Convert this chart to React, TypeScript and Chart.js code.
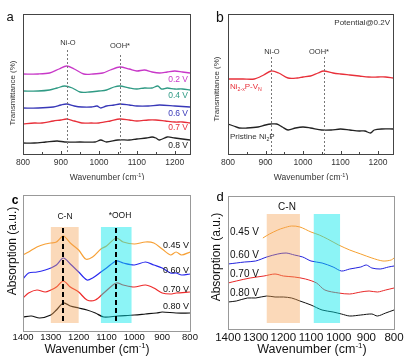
import { useEffect, useRef } from "react";
import { Chart, registerables } from "chart.js";
Chart.register(...registerables);

const FONT = "'Liberation Sans', Arial, sans-serif";

// ---------- Panel a: in-situ spectra at different potentials (transmittance, a.u. offsets)
const aX02 = [800, 840, 870, 895, 915, 935, 960, 985, 1010, 1030, 1055, 1080, 1100, 1120, 1140, 1160, 1180, 1200, 1220, 1240];
const aY02 = [80, 80, 81, 85, 88, 85, 80, 80, 81, 84, 87, 85, 83, 84, 82, 81, 82, 83, 82, 81];
const aX04 = [800, 840, 870, 890, 910, 930, 950, 975, 1000, 1020, 1040, 1055, 1080, 1100, 1120, 1140, 1155, 1165, 1180, 1200, 1220, 1240];
const aY04 = [63, 63, 64, 66, 68, 66, 62, 62, 63, 64, 67, 68, 66, 65, 66, 66, 68, 65, 66, 65, 65, 64];
const aX06 = [800, 840, 880, 900, 915, 935, 955, 980, 995, 1005, 1020, 1040, 1055, 1080, 1100, 1130, 1160, 1200, 1240];
const aY06 = [46, 46, 47, 49, 50, 48, 47, 47, 48, 46, 48, 49, 50, 49, 48, 48, 49, 48, 47];
const aX07 = [800, 830, 850, 880, 900, 915, 935, 955, 980, 1000, 1030, 1055, 1080, 1100, 1130, 1150, 1175, 1200, 1220, 1240];
const aY07 = [30, 31, 31, 33, 34, 35, 33, 31, 31, 31, 33, 35, 34, 33, 34, 34, 33, 32, 32, 31];
const aX08 = [800, 830, 860, 890, 910, 950, 990, 1005, 1020, 1050, 1080, 1100, 1125, 1140, 1150, 1160, 1180, 1200, 1220, 1240];
const aY08 = [11, 11, 12, 13, 12, 12, 12, 14, 12, 14, 14, 15, 16, 17, 16, 14, 17, 16, 15, 14];
const aLabels = ["0.2 V", "0.4 V", "0.6 V", "0.7 V", "0.8 V"];

// ---------- Panel b: Ni2-xP-VN vs pristine Ni2P @0.2 V
const bXv = [800, 840, 870, 895, 915, 935, 960, 985, 1000, 1020, 1040, 1055, 1080, 1100, 1125, 1150, 1175, 1200, 1220, 1240];
const bYv = [75, 75, 75, 79, 83, 81, 76, 76, 77, 78, 81, 83, 81, 80, 79, 78, 77, 77, 77, 76];
const bXp = [800, 815, 830, 850, 880, 900, 915, 930, 945, 960, 980, 1000, 1020, 1050, 1075, 1100, 1125, 1150, 1165, 1180, 1190, 1210, 1240];
const bYp = [30, 28, 26, 26, 27, 29, 30, 30, 27, 24, 26, 27, 26, 24, 24, 25, 24, 23, 23, 21, 24, 25, 25];

// ---------- Panel c: absorption spectra (reversed wavenumber)
const cX45 = [1400, 1380, 1350, 1320, 1300, 1280, 1255, 1230, 1200, 1175, 1150, 1120, 1100, 1065, 1040, 1000, 960, 930, 900, 870, 850, 830, 800];
const cY45 = [76, 79, 84, 87, 88, 89, 95, 88, 81, 72, 74, 82, 85, 93, 89, 87, 89, 88, 82, 76, 79, 76, 79];
const cX60 = [1400, 1380, 1350, 1320, 1300, 1280, 1255, 1230, 1200, 1170, 1150, 1120, 1100, 1065, 1040, 1000, 960, 930, 900, 870, 850, 830, 800];
const cY60 = [52, 58, 59, 61, 63, 66, 73, 67, 59, 51, 53, 59, 63, 70, 68, 66, 69, 66, 63, 58, 58, 56, 57];
const cX70 = [1400, 1380, 1350, 1320, 1300, 1280, 1255, 1230, 1200, 1170, 1140, 1110, 1065, 1040, 1000, 960, 930, 900, 870, 850, 800];
const cY70 = [33, 38, 41, 39, 41, 44, 50, 44, 39, 31, 31, 38, 48, 46, 44, 46, 43, 38, 37, 38, 39];
const cX80 = [1400, 1370, 1340, 1300, 1280, 1255, 1230, 1200, 1170, 1140, 1110, 1060, 1000, 960, 920, 900, 850, 800];
const cY80 = [14, 15, 13, 16, 21, 28, 25, 23, 21, 18, 14, 15, 16, 17, 18, 19, 18, 18];
const cLabels = ["0.45 V", "0.60 V", "0.70 V", "0.80 V"];

// ---------- Panel d
const dX45 = [1274, 1250, 1220, 1200, 1170, 1140, 1100, 1070, 1040, 1000, 960, 920, 880, 840, 810, 800];
const dY45 = [91, 95, 99, 101, 103, 102, 97, 94, 90, 84, 79, 75, 71, 68, 69, 71];
const dX60 = [1400, 1370, 1340, 1300, 1260, 1220, 1190, 1160, 1130, 1100, 1060, 1020, 990, 960, 920, 900, 880, 850, 820, 800];
const dY60 = [65, 66, 67, 68, 72, 75, 76, 74, 72, 68, 66, 62, 58, 60, 62, 64, 61, 60, 62, 63];
const dX70 = [1400, 1370, 1320, 1270, 1230, 1200, 1160, 1120, 1080, 1050, 1000, 960, 920, 890, 860, 830, 800];
const dY70 = [46, 48, 51, 53, 55, 53, 52, 50, 46, 39, 36, 35, 37, 38, 37, 39, 41];
const dX80 = [1400, 1370, 1330, 1300, 1260, 1230, 1200, 1170, 1140, 1100, 1060, 1020, 990, 960, 920, 880, 860, 830, 800];
const dY80 = [27, 28, 31, 31, 33, 32, 32, 31, 28, 24, 19, 17, 15, 13, 14, 15, 13, 16, 19];
const dLabels = ["0.45 V", "0.60 V", "0.70 V", "0.80 V"];

// Marker positions (wavenumbers)
const abPeaks = [915, 1055];
const cPeaks = [1255, 1065];
const cBandCN = [1300, 1200];
const cBandOOH = [1120, 1010];
const dBandCN = [1260, 1140];
const dBandOOH = [1090, 995];

type Seg = { t: string; s?: "sub" | "sup" };
type TextItem = { segs: Seg[]; x: number; y: number; size: number; color: string; align?: "left" | "center" | "right"; rot?: boolean; bold?: boolean };
type Series = { xs: number[]; ys: number[]; color: string };
type Band = { from: number; to: number; color: string };
type VLine = { x: number; top: number; bottom: number; color: string; width: number; dash: number[] };
type Panel = {
  left: number; top: number; w: number; h: number;
  padL: number; padT: number; padR: number; axisH: number;
  xmin: number; xmax: number; reverse: boolean;
  tickSize: number; tickColor: string; tickPad: number;
  ymax: number; series: Series[]; lw: number; frame: string;
  bands: Band[]; bandY: number[]; vlines: VLine[]; texts: TextItem[]; innerTicks: boolean;
};

const T = (t: string): Seg[] => [{ t }];
const WN: Seg[] = [{ t: "Wavenumber (cm" }, { t: "-1", s: "sup" }, { t: ")" }];

const cMag = "#c838c8", cTeal = "#2f9a84", cBlue = "#3838b8", cRed = "#e8303a", cBlk = "#222";
const CN_BAND = "rgba(245,160,80,0.40)";
const OOH_BAND = "rgba(0,230,235,0.45)";

const PANELS: Panel[] = [
  {
    left: 0, top: 0, w: 204, h: 180, padL: 23, padT: 14, padR: 14, axisH: 26,
    xmin: 800, xmax: 1240, reverse: false, tickSize: 8.5, tickColor: "#333", tickPad: 4,
    ymax: 140, lw: 1.3, frame: "#444", innerTicks: true,
    series: [
      { xs: aX02, ys: aY02, color: cMag }, { xs: aX04, ys: aY04, color: cTeal },
      { xs: aX06, ys: aY06, color: cBlue }, { xs: aX07, ys: aY07, color: cRed },
      { xs: aX08, ys: aY08, color: cBlk },
    ],
    bands: [], bandY: [0, 0],
    vlines: [
      { x: abPeaks[0], top: 104, bottom: 0, color: "#777", width: 1, dash: [2, 2] },
      { x: abPeaks[1], top: 99, bottom: 0, color: "#777", width: 1, dash: [2, 2] },
    ],
    texts: [
      { segs: T("a"), x: 10, y: 17, size: 13, color: "#111" },
      { segs: T("Transmittance (%)"), x: 13, y: 93, size: 8, color: "#333", rot: true },
      { segs: WN, x: 107, y: 178, size: 8.5, color: "#333" },
      { segs: T("Ni-O"), x: 68, y: 43, size: 7.5, color: "#333" },
      { segs: T("OOH*"), x: 120, y: 46, size: 7.5, color: "#333" },
      { segs: T(aLabels[0]), x: 188, y: 80, size: 8.5, color: cMag, align: "right" },
      { segs: T(aLabels[1]), x: 188, y: 96, size: 8.5, color: cTeal, align: "right" },
      { segs: T(aLabels[2]), x: 188, y: 114, size: 8.5, color: cBlue, align: "right" },
      { segs: T(aLabels[3]), x: 188, y: 128, size: 8.5, color: cRed, align: "right" },
      { segs: T(aLabels[4]), x: 188, y: 146, size: 8.5, color: cBlk, align: "right" },
    ],
  },
  {
    left: 204, top: 0, w: 205, h: 180, padL: 24, padT: 14, padR: 16, axisH: 26,
    xmin: 800, xmax: 1240, reverse: false, tickSize: 8.5, tickColor: "#333", tickPad: 4,
    ymax: 140, lw: 1.3, frame: "#444", innerTicks: true,
    series: [{ xs: bXv, ys: bYv, color: cRed }, { xs: bXp, ys: bYp, color: cBlk }],
    bands: [], bandY: [0, 0],
    vlines: [
      { x: abPeaks[0], top: 97, bottom: 0, color: "#777", width: 1, dash: [2, 2] },
      { x: abPeaks[1], top: 97, bottom: 0, color: "#777", width: 1, dash: [2, 2] },
    ],
    texts: [
      { segs: T("b"), x: 16, y: 18, size: 14, color: "#111" },
      { segs: T("Transmittance (%)"), x: 13, y: 89, size: 8, color: "#333", rot: true },
      { segs: WN, x: 107, y: 178, size: 8.5, color: "#333" },
      { segs: T("Potential@0.2V"), x: 186, y: 23, size: 8, color: "#333", align: "right" },
      { segs: T("Ni-O"), x: 68, y: 52, size: 7.5, color: "#333" },
      { segs: T("OOH*"), x: 115, y: 52, size: 7.5, color: "#333" },
      { segs: [{ t: "Ni" }, { t: "2-x", s: "sub" }, { t: "P-V" }, { t: "N", s: "sub" }], x: 26, y: 87, size: 8, color: cRed, align: "left" },
      { segs: [{ t: "Pristine Ni" }, { t: "2", s: "sub" }, { t: "P" }], x: 26, y: 137, size: 8, color: "#333", align: "left" },
    ],
  },
  {
    left: 0, top: 180, w: 204, h: 180, padL: 23, padT: 15, padR: 14, axisH: 29,
    xmin: 800, xmax: 1400, reverse: true, tickSize: 9.5, tickColor: "#111", tickPad: 1,
    ymax: 136, lw: 1.2, frame: "#999", innerTicks: false,
    series: [
      { xs: cX45, ys: cY45, color: "#f7a035" }, { xs: cX60, ys: cY60, color: "#2a2aee" },
      { xs: cX70, ys: cY70, color: "#ee2a2a" }, { xs: cX80, ys: cY80, color: "#111" },
    ],
    bands: [
      { from: cBandCN[0], to: cBandCN[1], color: CN_BAND },
      { from: cBandOOH[0], to: cBandOOH[1], color: OOH_BAND },
    ],
    bandY: [8, 104],
    vlines: [
      { x: cPeaks[0], top: 103, bottom: 9, color: "#000", width: 2, dash: [5, 3] },
      { x: cPeaks[1], top: 103, bottom: 9, color: "#000", width: 2, dash: [5, 3] },
    ],
    texts: [
      { segs: T("c"), x: 15, y: 21, size: 12, color: "#000", bold: true },
      { segs: T("Absorption (a.u.)"), x: 13, y: 71, size: 12, color: "#111", rot: true },
      { segs: WN, x: 97, y: 170, size: 12, color: "#111" },
      { segs: T("C-N"), x: 65, y: 37, size: 8.5, color: "#111" },
      { segs: T("*OOH"), x: 120, y: 36, size: 8.5, color: "#111" },
      { segs: T(cLabels[0]), x: 163, y: 66, size: 9, color: "#111", align: "left" },
      { segs: T(cLabels[1]), x: 163, y: 91, size: 9, color: "#111", align: "left" },
      { segs: T(cLabels[2]), x: 163, y: 110, size: 9, color: "#111", align: "left" },
      { segs: T(cLabels[3]), x: 163, y: 127, size: 9, color: "#111", align: "left" },
    ],
  },
  {
    left: 204, top: 180, w: 205, h: 180, padL: 24, padT: 16, padR: 15, axisH: 31,
    xmin: 800, xmax: 1400, reverse: true, tickSize: 11.5, tickColor: "#111", tickPad: 2,
    ymax: 133, lw: 1, frame: "#999", innerTicks: false,
    series: [
      { xs: dX45, ys: dY45, color: "#f5a030" }, { xs: dX60, ys: dY60, color: "#2222dd" },
      { xs: dX70, ys: dY70, color: "#e82828" }, { xs: dX80, ys: dY80, color: "#111" },
    ],
    bands: [
      { from: dBandCN[0], to: dBandCN[1], color: CN_BAND },
      { from: dBandOOH[0], to: dBandOOH[1], color: OOH_BAND },
    ],
    bandY: [6, 115],
    vlines: [],
    texts: [
      { segs: T("d"), x: 16, y: 17, size: 13, color: "#000" },
      { segs: T("Absorption (a.u.)"), x: 13, y: 77, size: 12, color: "#111", rot: true },
      { segs: WN, x: 108, y: 170, size: 12.5, color: "#111" },
      { segs: T("C-N"), x: 83, y: 27, size: 10, color: "#111" },
      { segs: T(dLabels[0]), x: 26, y: 52, size: 10, color: "#111", align: "left" },
      { segs: T(dLabels[1]), x: 26, y: 75, size: 10, color: "#111", align: "left" },
      { segs: T(dLabels[2]), x: 26, y: 94, size: 10, color: "#111", align: "left" },
      { segs: T(dLabels[3]), x: 26, y: 113, size: 10, color: "#111", align: "left" },
    ],
  },
];

function drawRich(ctx: CanvasRenderingContext2D, it: TextItem) {
  ctx.save();
  ctx.translate(it.x, it.y);
  if (it.rot) ctx.rotate(-Math.PI / 2);
  const weight = it.bold ? "bold " : "";
  const fontFor = (s?: string) => `${weight}${s ? it.size * 0.65 : it.size}px ${FONT}`;
  let total = 0;
  const widths = it.segs.map((sg) => {
    ctx.font = fontFor(sg.s);
    const m = ctx.measureText(sg.t).width;
    total += m;
    return m;
  });
  let x = it.align === "left" ? 0 : it.align === "right" ? -total : -total / 2;
  ctx.textBaseline = "middle";
  ctx.textAlign = "left";
  ctx.fillStyle = it.color;
  it.segs.forEach((sg, i) => {
    ctx.font = fontFor(sg.s);
    const dy = sg.s === "sub" ? it.size * 0.3 : sg.s === "sup" ? -it.size * 0.35 : 0;
    ctx.fillText(sg.t, x, dy);
    x += widths[i];
  });
  ctx.restore();
}

function makeChart(canvas: HTMLCanvasElement, p: Panel, idx: number) {
  const decor = {
    id: "decor" + idx,
    afterDatasetsDraw(chart: any) {
      const ctx: CanvasRenderingContext2D = chart.ctx;
      const { left, right, top, bottom } = chart.chartArea;
      const xs = chart.scales.x;
      const ys = chart.scales.y;
      ctx.save();
      p.bands.forEach((b) => {
        const x1 = xs.getPixelForValue(b.from);
        const x2 = xs.getPixelForValue(b.to);
        const y1 = ys.getPixelForValue(p.bandY[1]);
        const y2 = ys.getPixelForValue(p.bandY[0]);
        ctx.fillStyle = b.color;
        ctx.fillRect(Math.min(x1, x2), y1, Math.abs(x2 - x1), y2 - y1);
      });
      p.vlines.forEach((v) => {
        const x = Math.round(xs.getPixelForValue(v.x)) + (v.width % 2 ? 0.5 : 0);
        ctx.strokeStyle = v.color;
        ctx.lineWidth = v.width;
        ctx.setLineDash(v.dash);
        ctx.beginPath();
        ctx.moveTo(x, ys.getPixelForValue(v.top));
        ctx.lineTo(x, ys.getPixelForValue(v.bottom));
        ctx.stroke();
      });
      ctx.setLineDash([]);
      if (p.innerTicks) {
        ctx.strokeStyle = p.frame;
        ctx.lineWidth = 1;
        xs.ticks.forEach((t: any) => {
          const vals = [t.value, t.value + 50];
          vals.forEach((v, k) => {
            if (v < p.xmin || v > p.xmax) return;
            const x = Math.round(xs.getPixelForValue(v)) + 0.5;
            ctx.beginPath();
            ctx.moveTo(x, bottom);
            ctx.lineTo(x, bottom - (k === 0 ? 3 : 2));
            ctx.stroke();
          });
        });
      }
      ctx.strokeStyle = p.frame;
      ctx.lineWidth = 1;
      ctx.strokeRect(left + 0.5, top + 0.5, right - left, bottom - top);
      ctx.restore();
    },
    afterDraw(chart: any) {
      const ctx: CanvasRenderingContext2D = chart.ctx;
      p.texts.forEach((t) => drawRich(ctx, t));
    },
  };
  return new Chart(canvas, {
    type: "line",
    data: {
      datasets: p.series.map((s) => ({
        data: s.xs.map((x, i) => ({ x, y: s.ys[i] })),
        borderColor: s.color,
        borderWidth: p.lw,
        pointRadius: 0,
        tension: 0.3,
        fill: false,
      })),
    },
    options: {
      animation: false,
      responsive: false,
      maintainAspectRatio: false,
      events: [],
      layout: { padding: { left: p.padL, top: p.padT, right: p.padR, bottom: 0 } },
      plugins: { legend: { display: false }, tooltip: { enabled: false }, title: { display: false } },
      scales: {
        x: {
          type: "linear",
          min: p.xmin,
          max: p.xmax,
          reverse: p.reverse,
          afterFit: (s: any) => { s.height = p.axisH; },
          grid: { display: false, drawTicks: false, tickLength: 0 },
          border: { display: false },
          ticks: {
            stepSize: 100,
            includeBounds: false,
            autoSkip: false,
            maxRotation: 0,
            padding: p.tickPad,
            color: p.tickColor,
            font: { family: FONT, size: p.tickSize },
            callback: (v: any) => String(v),
          },
        },
        y: { display: false, min: 0, max: p.ymax },
      },
    } as any,
    plugins: [decor],
  });
}

export default function App() {
  const refs = useRef<(HTMLCanvasElement | null)[]>([]);
  useEffect(() => {
    const charts = PANELS.map((p, i) => makeChart(refs.current[i] as HTMLCanvasElement, p, i));
    return () => charts.forEach((c) => c.destroy());
  }, []);
  return (
    <div style={{ position: "fixed", left: 0, top: 0, width: 409, height: 360, background: "#fff", overflow: "hidden" }}>
      {PANELS.map((p, i) => (
        <canvas
          key={i}
          ref={(el) => { refs.current[i] = el; }}
          width={p.w}
          height={p.h}
          style={{ position: "absolute", left: p.left, top: p.top, width: p.w, height: p.h }}
        />
      ))}
    </div>
  );
}
